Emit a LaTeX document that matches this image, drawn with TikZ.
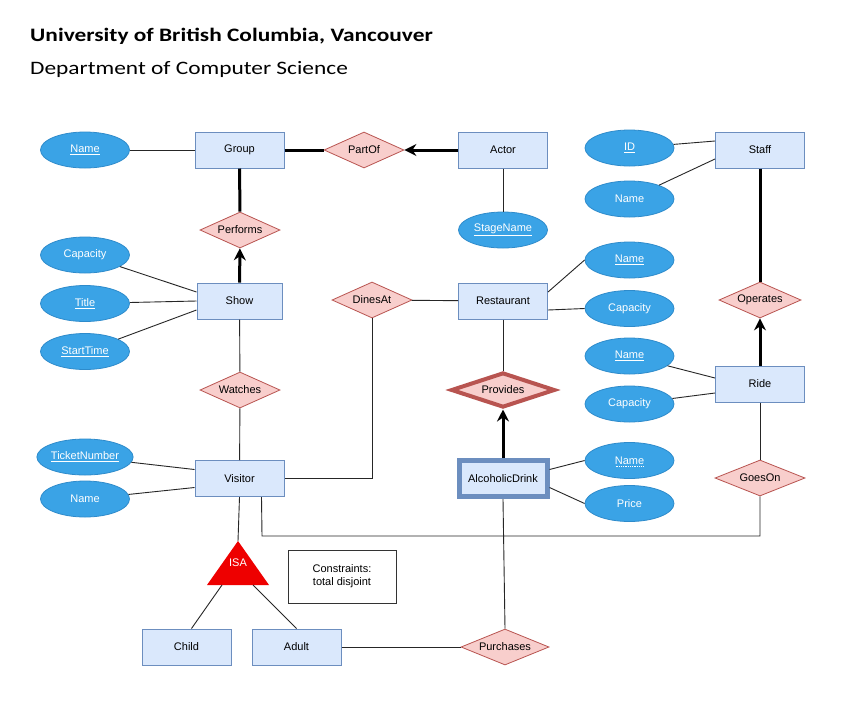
\documentclass[tikz,border=0pt]{standalone}
\usepackage{fontspec}
\setmainfont{Liberation Sans}
\newfontfamily\titlefont[FakeStretch=1.23]{Carlito}
\usetikzlibrary{shapes.geometric,arrows.meta}
\definecolor{entF}{HTML}{DAE8FC}
\definecolor{entB}{HTML}{6C8EBF}
\definecolor{attF}{HTML}{3AA3E6}
\definecolor{attB}{HTML}{2E8BCB}
\definecolor{relF}{HTML}{F8CECC}
\definecolor{relB}{HTML}{B85450}
\definecolor{isaF}{HTML}{EE0000}
\begin{document}
\begin{tikzpicture}[x=1pt,y=-1pt,
  every node/.style={font=\fontsize{11}{13}\selectfont},
  ent/.style={draw=entB, fill=entF, line width=1pt, minimum width=89pt, minimum height=36pt, inner sep=0pt},
  attr/.style={ellipse, draw=attB, fill=attF, line width=0.8pt, minimum width=89pt, minimum height=36pt, inner sep=0pt, text=white},
  rel/.style={diamond, aspect=2.2, draw=relB, fill=relF, line width=0.8pt, minimum width=80pt, minimum height=36pt, inner sep=0pt},
  ln/.style={draw=black!85, line width=0.9pt},
  heavy/.style={draw=black, line width=3pt},
  harrow/.style={heavy, -{Stealth[length=12pt,width=12pt,inset=4pt]}},
]
\useasboundingbox[fill=white] (0,0) rectangle (846,716);

% titles
\node[anchor=west, inner sep=0pt, font=\titlefont\bfseries\fontsize{19}{23}\selectfont] (title) at (30,36) {University of British Columbia, Vancouver};
\node[anchor=west, inner sep=0pt, font=\titlefont\fontsize{19}{23}\selectfont] (subtitle) at (30,69) {Department of Computer Science};

% entities
\node[ent] (group) at (239.5,150) {Group};
\node[ent] (actor) at (503,150) {Actor};
\node[ent] (staff) at (760,150) {Staff};
\node[ent, minimum width=85pt] (show) at (239.5,301) {Show};
\node[ent] (rest) at (503,301) {Restaurant};
\node[ent] (ride) at (760,384) {Ride};
\node[ent] (visitor) at (239.5,478.5) {Visitor};
\node[ent, line width=5pt, minimum width=88pt, minimum height=36pt] (drink) at (503,478.5) {AlcoholicDrink};
\node[ent] (child) at (186.5,647) {Child};
\node[ent] (adult) at (296.5,647) {Adult};

% relationships
\node[rel] (partof) at (364,150) {PartOf};
\node[rel] (performs) at (240,230) {Performs};
\node[rel] (dinesat) at (372,300) {DinesAt};
\node[rel, minimum width=82pt] (operates) at (760,300) {Operates};
\node[rel] (watches) at (240,390) {Watches};
\node[rel, line width=4pt, minimum width=104pt, minimum height=35pt] (provides) at (503,390) {Provides};
\node[rel, minimum width=90pt] (goeson) at (760,478) {GoesOn};
\node[rel, minimum width=88pt] (purchases) at (505,647) {Purchases};

% attributes
\node[attr] (gname) at (85,150) {\underline{Name}};
\node[attr] (stage) at (503,230) {\underline{StageName}};
\node[attr] (sid) at (629.5,148) {\underline{ID}};
\node[attr] (sname) at (629.5,199) {Name};
\node[attr] (scap) at (85,255) {Capacity};
\node[attr] (stitle) at (85,303.5) {\underline{Title}};
\node[attr] (sstart) at (85,351.5) {\underline{StartTime}};
\node[attr] (rname) at (629.5,260) {\underline{Name}};
\node[attr] (rcap) at (629.5,308.5) {Capacity};
\node[attr] (ridename) at (629.5,356) {\underline{Name}};
\node[attr] (ridecap) at (629.5,404) {Capacity};
\node[attr] (ticket) at (85,457) {\underline{TicketNumber}};
\node[attr] (vname) at (85,499) {Name};
\node[attr] (dname) at (629.5,460.5) {Name};
\node[attr] (dprice) at (629.5,503.5) {Price};
\draw[white, line width=0.6pt, dash pattern=on 0.9pt off 0.9pt] ([xshift=-14pt,yshift=-6pt]dname.center) -- ([xshift=14pt,yshift=-6pt]dname.center);

% ISA triangle
\coordinate (isatop) at (238,541);
\coordinate (isal) at (207,585);
\coordinate (isar) at (269,585);
\fill[isaF] (isatop) -- (isar) -- (isal) -- cycle;
\node[text=white] (isa) at (238,563) {ISA};
\coordinate (isachild) at (222,585);
\coordinate (isaadult) at (253,585);

% constraints box
\node[draw=black!80, line width=0.9pt, minimum width=108pt, minimum height=53pt, align=center, inner sep=0pt] (constr) at (342,576.5) {Constraints:\\total disjoint};

% thin connectors
\draw[ln] (gname) -- (group);
\draw[ln] (actor) -- (stage);
\draw[ln] (sid) -- ([yshift=9pt]staff.west);
\draw[ln] (sname) -- ([yshift=-9pt]staff.west);
\draw[ln] (scap) -- ([yshift=9pt]show.west);
\draw[ln] (stitle) -- (show.west);
\draw[ln] (sstart) -- ([yshift=-9pt]show.west);
\draw[ln] ([yshift=9pt]rest.east) -- (rname.west);
\draw[ln] ([yshift=-9pt]rest.east) -- (rcap.west);
\draw[ln] (ridename) -- ([yshift=6pt]ride.west);
\draw[ln] (ridecap) -- ([yshift=-9pt]ride.west);
\draw[ln] (ticket) -- ([yshift=9pt]visitor.west);
\draw[ln] (vname) -- ([yshift=-9pt]visitor.west);
\draw[ln] ([yshift=9pt]drink.east) -- (dname.west);
\draw[ln] ([yshift=-9pt]drink.east) -- (dprice.west);
\draw[ln] (show) -- (watches);
\draw[ln] (watches) -- (visitor);
\draw[ln] (dinesat) -- (rest);
\draw[ln] (dinesat.south) |- (visitor.east);
\draw[ln] (rest) -- (provides);
\draw[ln] (ride) -- (goeson);
\coordinate (vdown) at (262,536);
\draw[ln] ([xshift=22pt]visitor.south) -- (vdown) -| (goeson.south);
\draw[ln] (visitor.south) -- (isatop);
\draw[ln] (isachild) -- ([xshift=5pt]child.north);
\draw[ln] (isaadult) -- (adult.north);
\draw[ln] (adult) -- (purchases);
\draw[ln] (drink.south) -- (purchases.north);

% heavy connectors
\draw[heavy] (group) -- (partof);
\draw[harrow] (actor) -- (partof);
\draw[heavy] (group) -- (performs);
\draw[harrow] (show) -- (performs);
\draw[heavy] (staff) -- (operates);
\draw[harrow] (ride) -- (operates);
\draw[harrow] (drink) -- (provides);
\end{tikzpicture}
\end{document}
